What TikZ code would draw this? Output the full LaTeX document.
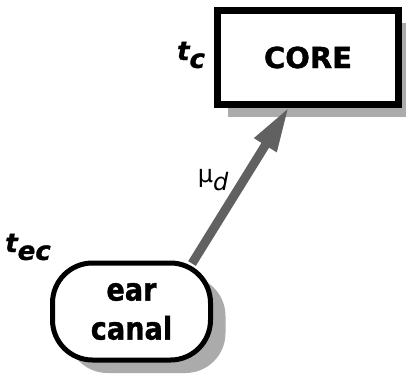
\documentclass[tikz,border=0pt]{standalone}
\usepackage{fontspec}
\setmainfont{DejaVu Sans}
\newfontfamily\heavyfont[FakeBold=1.2]{DejaVu Sans Bold}
\newfontfamily\heavyit[FakeBold=1.2]{DejaVu Sans Bold Oblique}
\usetikzlibrary{arrows.meta,shadows,calc}
\begin{document}
\begin{tikzpicture}[x=1pt,y=-1pt,
  corebox/.style={draw, fill=white, line width=7pt, minimum width=181pt, minimum height=94pt, inner sep=0pt,
    font=\heavyfont\fontsize{29}{34}\selectfont,
    drop shadow={shadow xshift=10pt, shadow yshift=-12pt, fill=black!33, opacity=1}},
  earbox/.style={draw, fill=white, line width=5pt, minimum width=158pt, minimum height=97pt, inner sep=0pt,
    rounded corners=40pt, align=center,
    font=\heavyfont\fontsize{28}{39}\selectfont,
    drop shadow={shadow xshift=15pt, shadow yshift=-13pt, fill=black!33, opacity=1}},
  templabel/.style={font=\heavyit\fontsize{26}{30}\selectfont, inner sep=0pt},
  flowlabel/.style={font=\fontsize{24}{28}\selectfont, inner sep=0pt},
  flowarrow/.style={line width=9pt, draw=black!62, -{Triangle[width=24pt,length=45pt,fill=black!62]}}
]
\useasboundingbox (0,0) rectangle (406,376);
\node[corebox] (core) at (308,57.5) {CORE};
\node[earbox] (ear) at (131.5,311.5) {\scalebox{0.97}[1.12]{ear}\\\scalebox{0.97}[1.12]{canal}};
\node[templabel] (tc) at (191,55) {t\raisebox{-0.3em}{c}};
\node[templabel] (tec) at (28,247) {t\raisebox{-0.3em}{ec}};
\node[flowlabel] (mud) at (213,180) {μ\raisebox{-0.3em}{\itshape d}};
\coordinate (tail) at ($(ear.north east)+(-21,3)$);
\coordinate (tip) at ($(core.south)+(-19,-1)$);
\draw[flowarrow] (tail) -- (tip);
\end{tikzpicture}
\end{document}
